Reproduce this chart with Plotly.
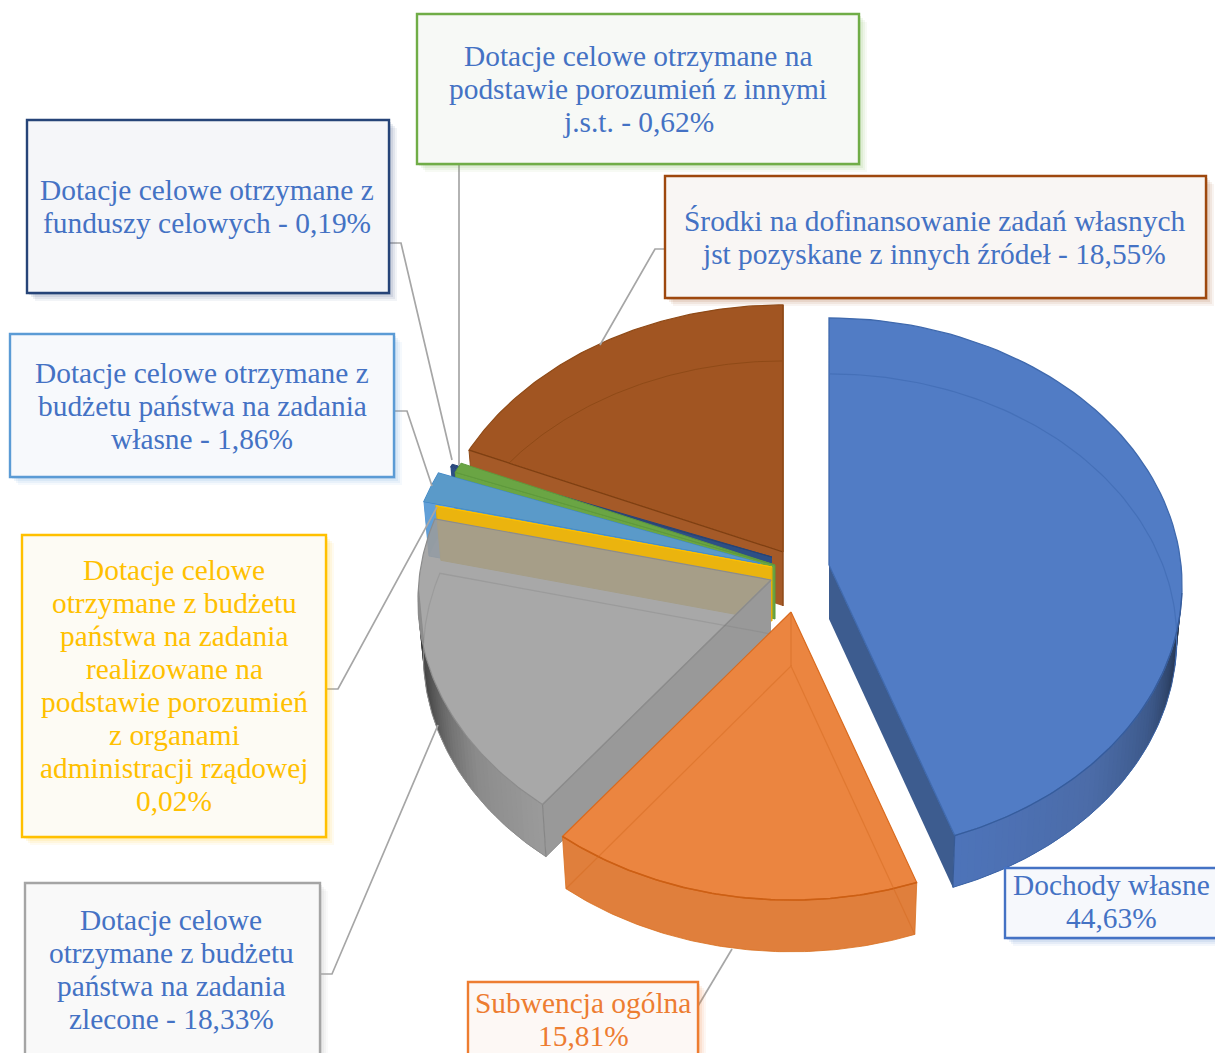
import numpy as np
import plotly.graph_objects as go

# ---------- data ----------
CATEGORIES = ["Dochody własne", "Subwencja ogólna",
              "Dotacje celowe otrzymane z budżetu państwa na zadania zlecone",
              "Dotacje celowe otrzymane z budżetu państwa na zadania realizowane na podstawie porozumień z organami administracji rządowej",
              "Dotacje celowe otrzymane z budżetu państwa na zadania własne",
              "Dotacje celowe otrzymane z funduszy celowych",
              "Dotacje celowe otrzymane na podstawie porozumień z innymi j.s.t.",
              "Środki na dofinansowanie zadań własnych jst pozyskane z innych źródeł"]
VALUES = [44.63, 15.81, 18.33, 0.02, 1.86, 0.19, 0.62, 18.55]

LABEL_LINES = [
    ["Dochody własne", "44,63%"],
    ["Subwencja ogólna", "15,81%"],
    ["Dotacje celowe", "otrzymane z budżetu", "państwa na zadania", "zlecone - 18,33%"],
    ["Dotacje celowe", "otrzymane z budżetu", "państwa na zadania", "realizowane na", "podstawie porozumień",
     "z organami", "administracji rządowej", "0,02%"],
    ["Dotacje celowe otrzymane z", "budżetu państwa na zadania", "własne - 1,86%"],
    ["Dotacje celowe otrzymane z", "funduszy celowych - 0,19%"],
    ["Dotacje celowe otrzymane na", "podstawie porozumień z innymi", "j.s.t. - 0,62%"],
    ["Środki na dofinansowanie zadań własnych", "jst pozyskane z innych źródeł - 18,55%"],
]

# ---------- exploded slice centres (style of the 3-D pie, not data) ----------
APEX = [(829, 565), (791, 612), (771, 580), (772, 567), (760, 563), (772, 557), (775, 565), (783, 552)]
A, B, P = 352.0, 266.0, 0.0767
DEPTH = 54.0
BX, BY = 0.985, 0.992

# ---------- label boxes ----------
BOXES = [(1005, 868, 1225, 938), (468, 982, 698, 1070), (25, 883, 320, 1070), (22, 535, 326, 837),
         (10, 334, 394, 477), (27, 120, 389, 293), (417, 14, 859, 164), (665, 176, 1206, 298)]
BORDER = ["#4472c4", "#ed7d31", "#a5a5a5", "#ffc000", "#5b9bd5", "#264478", "#70ad47", "#9e480e"]
BOXFILL = ["#f6f8fc", "#fdf8f5", "#f9f9f9", "#fdfbf4", "#f7f9fc", "#f5f6f9", "#f7f9f6", "#f9f6f4"]
TEXTCOL = ["#4472c4", "#ed7d31", "#4472c4", "#ffc000", "#4472c4", "#4472c4", "#4472c4", "#4472c4"]
TEXTPOS = [(1111, 885), (583, 1003), (171, 920), (174, 570), (202, 373), (207, 190), (638, 56), (934, 221)]
LEADERS = [None,
           [(698, 1006), (732, 949)],
           [(320, 974), (332, 974), (438, 725)],
           [(326, 689), (338, 689), (437, 507)],
           [(394, 411), (407, 411), (432, 486)],
           [(389, 243), (401, 243), (452, 460)],
           [(459, 164), (459, 465)],
           [(665, 249), (655, 249), (600, 345)]]
LINE_PITCH = 33
FONT = "Liberation Serif"
FONT_SIZE = 29.4

# ---------- geometry computed from the values ----------
edges = np.concatenate([[0], np.cumsum(VALUES)]) / sum(VALUES) * 360.0


def rim(th, apex, bottom=False):
    th = np.radians(np.asarray(th, dtype=float))
    u, v = np.sin(th), np.cos(th)
    den = 1 + P * v
    dx, dy = A * u / den, -B * v / den
    if bottom:
        return apex[0] + BX * dx, apex[1] + DEPTH + BY * dy
    return apex[0] + dx, apex[1] + dy


def arc(i, a=None, b=None, n=90):
    a = edges[i] if a is None else a
    b = edges[i + 1] if b is None else b
    return np.linspace(a, b, n)


fig = go.Figure()


def poly(xs, ys, fill, line=None, width=1.0, name=None):
    fig.add_trace(go.Scatter(x=list(xs), y=list(ys), mode="lines", fill="toself", fillcolor=fill,
                             line=dict(color=line or "rgba(0,0,0,0)", width=width if line else 0),
                             hoverinfo="skip", showlegend=False, name=name))


def stroke(xs, ys, color, width=1.0):
    fig.add_trace(go.Scatter(x=list(xs), y=list(ys), mode="lines", line=dict(color=color, width=width),
                             hoverinfo="skip", showlegend=False))


def top_sector(i, fill, line, width=1.0):
    ap = APEX[i]
    x, y = rim(arc(i), ap)
    poly(np.r_[ap[0], x, ap[0]], np.r_[ap[1], y, ap[1]], fill, line, width, CATEGORIES[i])


def cut_face(i, theta, fill, line=None, width=1.0):
    ap = APEX[i]
    xt, yt = rim(theta, ap)
    xb, yb = rim(theta, ap, True)
    poly([ap[0], xt, xb, ap[0], ap[0]], [ap[1], yt, yb, ap[1] + DEPTH, ap[1]], fill, line, width)


def wall(i, a, b, stops, n=44):
    """Outer wall split in small quads, colour follows the stops along the angle."""
    ap = APEX[i]
    ts = np.linspace(a, b, n + 1)
    stops = np.array(stops, dtype=float)
    for k in range(n):
        f = (k + .5) / n
        c = [np.interp(f, stops[:, 0], stops[:, j]) for j in (1, 2, 3)]
        seg = np.linspace(ts[k], ts[k + 1] + (1.0 if b > a else -1.0), 3)
        xt, yt = rim(seg, ap)
        xb, yb = rim(seg, ap, True)
        poly(np.r_[xt, xb[::-1], xt[0]], np.r_[yt, yb[::-1], yt[0]], "rgb(%d,%d,%d)" % tuple(c))


# brown (back)
i = 7
top_sector(i, "#a15522", "#8f4a17", 1.2)
bx, by = rim(arc(i), APEX[i], True)
stroke(bx, by, "#8f4a17", 1)
cut_face(i, edges[i], "#a55a28")
xt, yt = rim(edges[i], APEX[i])
stroke([xt, APEX[i][0]], [yt, APEX[i][1]], "#7e3f12", 1.2)
stroke([APEX[i][0], APEX[i][0]], [rim(360, APEX[i])[1], APEX[i][1] + DEPTH], "#8f4a17", 1.5)
xb, yb = rim(edges[i], APEX[i], True)
stroke([xt, xb], [yt, yb], "#8f4a17", 1)

# navy and green
i = 5
cut_face(i, edges[i], "#2d4f85")
top_sector(i, "#2a4a80", "#264478", 1)
i = 6
cut_face(i, edges[i], "#6aa544", "#5f9a3c", 1)
top_sector(i, "#6aa544", "#5f9a3c", 1)

# light blue
i = 4
cut_face(i, edges[i], "rgba(91,155,213,0.85)", "#5b9bd5", 1)
xb, yb = rim(arc(i), APEX[i], True)
xt, yt = rim(arc(i), APEX[i])
poly(np.r_[xt, xb[::-1], xt[0]], np.r_[yt, yb[::-1], yt[0]], "rgba(91,155,213,0.75)")
top_sector(i, "#5a9ac9", "#3f86c6", 1.2)
poly(np.r_[xt[-1], xt[::-1], APEX[i][0], xt[-1]], np.r_[yt[-1], yt[::-1], APEX[i][1], yt[-1]], "#5a9ac9")

# yellow
i = 3
cut_face(i, edges[i], "#ebb40e", "#e3ab05", 1)
top_sector(i, "#ebb40e", "#ffc000", 1)

# gray
i = 2
GRAY_WALL_END = 268
wall(i, edges[i], GRAY_WALL_END, [(0, 155, 155, 155), (.3, 140, 140, 140), (.45, 120, 120, 120), (.62, 90, 90, 90), (.8, 65, 65, 65), (1, 45, 45, 45)])
cut_face(i, edges[i], "#999999")
ap = APEX[i]
xb, yb = rim(arc(i, edges[i], GRAY_WALL_END), ap, True)
xt, yt = rim(edges[i], ap)
xb0, yb0 = rim(edges[i], ap, True)
stroke([xt, xb0], [yt, yb0], "#868686", 1.2)
stroke(xb, yb, "#8d8d8d", 1)
stroke([ap[0], xt], [ap[1], yt], "#868686", 1.2)
stroke([xb0, ap[0]], [yb0, ap[1] + DEPTH], "#8d8d8d", 1)
top_sector(i, "rgba(155,155,155,0.87)", "#8c8c8c", 1.2)
xb2, yb2 = rim(arc(i, GRAY_WALL_END, edges[i + 1], 30), ap, True)
stroke(np.r_[xb2, ap[0]], np.r_[yb2, ap[1] + DEPTH], "rgba(125,125,125,0.3)", 1.2)

# orange
i = 1
ap = APEX[i]
xt, yt = rim(arc(i), ap)
xb, yb = rim(arc(i), ap, True)
poly(np.r_[xt, xb[::-1], xt[0]], np.r_[yt, yb[::-1], yt[0]], "#e07f3c", "#d8701f", 0.8)
top_sector(i, "#eb8540", "#d96a1e", 1.2)
stroke(xt, yt, "#cc5f14", 1.6)
stroke([ap[0], ap[0]], [ap[1], ap[1] + DEPTH], "rgba(214,108,34,0.55)", 1.2)
stroke([xb[0], ap[0], xb[-1]], [yb[0], ap[1] + DEPTH, yb[-1]], "rgba(214,108,34,0.5)", 1.2)

# blue (front right)
i = 0
ap = APEX[i]
BLUE_WALL_START = 96
wall(i, edges[i + 1], BLUE_WALL_START, [(0, 78, 116, 186), (.4, 76, 108, 168), (.65, 62, 90, 140), (.8, 48, 70, 108), (.9, 38, 54, 84), (1, 30, 42, 64)], n=56)
cut_face(i, edges[i + 1], "#3d5c8f")
top_sector(i, "#517cc5", "#3f69ad", 1.3)
xb, yb = rim(arc(i, 0, 100), ap, True)
stroke(xb, yb, "#4570b8", 1.2)
xt, yt = rim(edges[i + 1], ap)
xb0, yb0 = rim(edges[i + 1], ap, True)
stroke([xt, xb0], [yt, yb0], "#375a94", 1.2)
xb, yb = rim(arc(i, BLUE_WALL_START, edges[i + 1]), ap, True)
stroke(xb, yb, "#3c64a6", 1)
stroke([xt, *rim(arc(i, BLUE_WALL_START, edges[i + 1])[::-1], ap)[0]],
       [yt, *rim(arc(i, BLUE_WALL_START, edges[i + 1])[::-1], ap)[1]], "#365c9c", 1.2)

# ---------- boxes, leaders, texts ----------
shapes, annotations = [], []
for lead in LEADERS:
    if lead:
        path = "M " + " L ".join(f"{x},{y}" for x, y in lead)
        shapes.append(dict(type="path", path=path, line=dict(color="#a6a6a6", width=1.7), xref="x", yref="y"))


def hex_rgba(h, a):
    return f"rgba({int(h[1:3], 16)},{int(h[3:5], 16)},{int(h[5:7], 16)},{a})"


for k, (x0, y0, x1, y1) in enumerate(BOXES):
    for s, a in ((8, .06), (6, .08), (4, .10), (2, .14)):
        shapes.append(dict(type="rect", x0=x0 + s, y0=y0 + s, x1=x1 + s, y1=y1 + s,
                           fillcolor=hex_rgba(BORDER[k], a), line=dict(width=0), xref="x", yref="y"))
    shapes.append(dict(type="rect", x0=x0, y0=y0, x1=x1, y1=y1, fillcolor=BOXFILL[k],
                       line=dict(color=BORDER[k], width=2.4), xref="x", yref="y"))
    tx, ty = TEXTPOS[k]
    for n, line in enumerate(LABEL_LINES[k]):
        annotations.append(dict(x=tx, y=ty + n * LINE_PITCH, text=line, showarrow=False, xref="x", yref="y",
                                xanchor="center", yanchor="middle",
                                font=dict(family=FONT, size=FONT_SIZE, color=TEXTCOL[k])))

fig.update_layout(width=1215, height=1053, margin=dict(l=0, r=0, t=0, b=0), autosize=False,
                  paper_bgcolor="white", plot_bgcolor="white", showlegend=False,
                  xaxis=dict(range=[0, 1215], visible=False, fixedrange=True),
                  yaxis=dict(range=[1053, 0], visible=False, fixedrange=True),
                  shapes=shapes, annotations=annotations)

fig.write_html("out.html", config=dict(displayModeBar=False),
               post_script="document.body.style.margin='0';document.documentElement.style.overflow='hidden';")
